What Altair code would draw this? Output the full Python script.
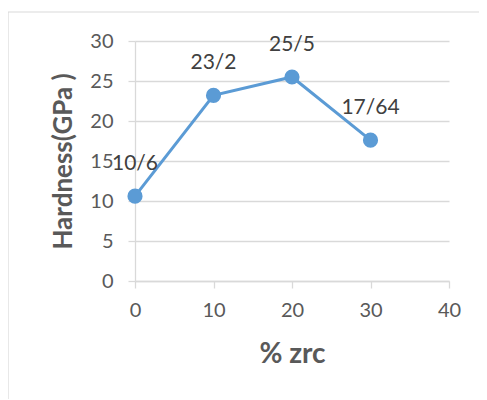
import altair as alt
import pandas as pd

zrc = [0, 10, 20, 30]
hardness = [10.6, 23.2, 25.5, 17.6]
labels = ["10/6", "23/2", "25/5", "17/64"]

df = pd.DataFrame({"zrc": zrc, "hardness": hardness, "label": labels})

FONT = "Lato"
W, H = 314, 240

x = alt.X("zrc:Q", scale=alt.Scale(domain=[0, 40], nice=False),
          axis=alt.Axis(values=[0, 10, 20, 30, 40], title="% zrc", grid=False,
                        tickSize=7, labelPadding=22, labelBaseline="middle",
                        labelOverlap=False, labelFlush=False,
                        titleX=W / 2, titleY=73, titleBaseline="middle",
                        titleAlign="center", titleFontSize=28))
y = alt.Y("hardness:Q", scale=alt.Scale(domain=[0, 30], nice=False),
          axis=alt.Axis(values=[0, 5, 10, 15, 20, 25, 30], title="Hardness(GPa )",
                        grid=True, tickSize=7, labelPadding=15, labelOverlap=False,
                        labelFlush=False,
                        titleX=-72, titleY=H / 2, titleAngle=270,
                        titleBaseline="middle", titleAlign="center"))

base = alt.Chart(df)
line = base.mark_line(color="#5B9BD5", strokeWidth=3).encode(x=x, y=y)
pts = base.mark_circle(color="#5B9BD5", opacity=1, size=230).encode(x=x, y=y)
txt = base.mark_text(dy=-32, fontSize=21, font=FONT, color="#404040").encode(
    x=x, y=y, text="label:N")

frame = alt.Chart(pd.DataFrame({"a": [0]})).mark_rect(
    fill=None, stroke="#D9D9D9", strokeWidth=1.2, clip=False).encode(
    x=alt.value(-127), x2=alt.value(W + 60), y=alt.value(-29), y2=alt.value(H + 160))

chart = alt.layer(frame, line, pts, txt).properties(
    width=W, height=H,
    autosize=alt.AutoSizeParams(type="none"),
    padding={"left": 127, "top": 33, "right": 30, "bottom": 118},
    background="white",
).configure_view(stroke=None).configure_axis(
    domainColor="#D9D9D9", tickColor="#D9D9D9", gridColor="#D9D9D9",
    domainWidth=1.3, tickWidth=1.3, gridWidth=1.3,
    labelFont=FONT, labelFontSize=20, labelColor="#595959",
    titleFont=FONT, titleFontSize=26, titleFontWeight="bold", titleColor="#595959",
)

chart.save("out.html", embed_options={"renderer": "svg", "actions": False})
